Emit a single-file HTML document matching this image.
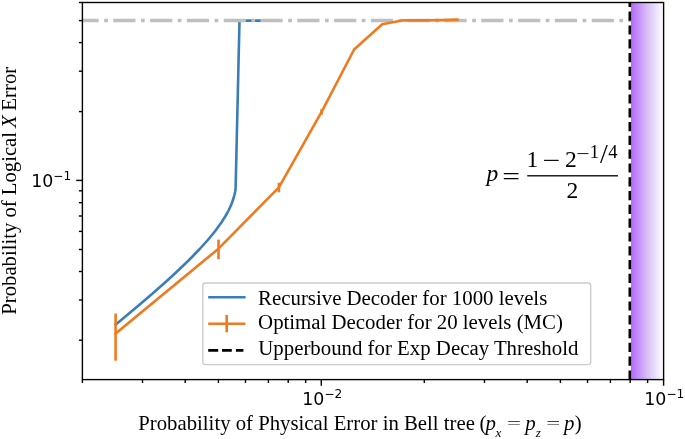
<!DOCTYPE html>
<html>
<head>
<meta charset="utf-8">
<style>
html,body{margin:0;padding:0;background:#fff;}
svg{display:block;}
.serif{font-family:"Liberation Serif","Times New Roman",serif;}
.sans{font-family:"DejaVu Sans","Liberation Sans",sans-serif;}
</style>
</head>
<body>
<svg width="685" height="439" viewBox="0 0 685 439">
<defs>
<linearGradient id="pg" x1="0" y1="0" x2="1" y2="0">
<stop offset="0" stop-color="#b468ff"/>
<stop offset="0.5" stop-color="#d8bff6"/>
<stop offset="0.9" stop-color="#f6f3fd"/>
<stop offset="1" stop-color="#ffffff"/>
</linearGradient>
</defs>
<rect x="0" y="0" width="685" height="439" fill="#fff"/>

<!-- blue recursive decoder curve -->
<polyline fill="none" stroke="#3a7db8" stroke-width="2.6" stroke-linejoin="round" stroke-linecap="square"
points="115.6,324.6 120.0,321.0 123.6,318.0 127.2,315.0 130.8,312.0 134.4,309.0 138.0,306.0 141.5,303.0 145.0,300.0 148.5,297.0 152.0,294.0 155.4,291.0 158.8,288.0 162.2,285.0 165.6,282.0 168.9,279.0 172.2,276.0 175.4,273.0 178.6,270.0 181.8,267.0 184.9,264.0 188.0,261.0 191.0,258.0 193.9,255.0 196.8,252.0 199.7,249.0 202.4,246.0 205.1,243.0 207.8,240.0 210.3,237.0 212.8,234.0 215.2,231.0 217.4,228.0 219.6,225.0 221.7,222.0 223.6,219.0 225.5,216.0 227.2,213.0 228.8,210.0 230.2,207.0 231.5,204.0 232.6,201.0 233.6,198.0 234.4,195.0 235.1,192.0 235.6,188.6 239.5,20.6 262,20.6"/>

<!-- gray dashdot line at 0.5 -->
<line x1="82.3" y1="20.6" x2="663.3" y2="20.6" stroke="#bfbfbf" stroke-width="3.47" stroke-dasharray="22.2 5.5 3.7 5.4" stroke-dashoffset="5.8"/>

<!-- orange optimal decoder -->
<polyline fill="none" stroke="#ef7b20" stroke-width="2.6" stroke-linejoin="round" stroke-linecap="square"
points="115.6,333.6 218.5,248.7 278.9,187.3 321.6,111.9 354.1,49.5 382.2,24.3 403.4,20.3 424.3,20.4 441.8,20.1 457.4,19.7"/>
<g stroke="#ef7b20" stroke-width="2.6">
<line x1="115.6" y1="313.5" x2="115.6" y2="360.7"/>
<line x1="218.5" y1="239.6" x2="218.5" y2="259.2"/>
<line x1="278.9" y1="182.8" x2="278.9" y2="192.3"/>
<line x1="321.6" y1="109.2" x2="321.6" y2="114.6"/>
</g>

<!-- purple gradient region -->
<rect x="631" y="2.5" width="32.6" height="377.1" fill="url(#pg)"/>
<!-- black dashed threshold line -->
<line x1="629.8" y1="379.6" x2="629.8" y2="2.5" stroke="#000" stroke-width="2.6" stroke-dasharray="9.2 4.6"/>

<!-- spines -->
<rect x="82.4" y="2.5" width="581.2" height="377.1" fill="none" stroke="#000" stroke-width="1.39"/>

<!-- y ticks -->
<g stroke="#000" stroke-width="1.39">
<line x1="76.2" y1="180.4" x2="82.4" y2="180.4"/>
<line x1="78.9" y1="2.5" x2="82.4" y2="2.5"/>
<line x1="78.9" y1="20.6" x2="82.4" y2="20.6"/>
<line x1="78.9" y1="42.6" x2="82.4" y2="42.6"/>
<line x1="78.9" y1="71.2" x2="82.4" y2="71.2"/>
<line x1="78.9" y1="111.6" x2="82.4" y2="111.6"/>
<line x1="78.9" y1="190.8" x2="82.4" y2="190.8"/>
<line x1="78.9" y1="202.7" x2="82.4" y2="202.7"/>
<line x1="78.9" y1="216.0" x2="82.4" y2="216.0"/>
<line x1="78.9" y1="231.4" x2="82.4" y2="231.4"/>
<line x1="78.9" y1="249.5" x2="82.4" y2="249.5"/>
<line x1="78.9" y1="271.5" x2="82.4" y2="271.5"/>
<line x1="78.9" y1="300.0" x2="82.4" y2="300.0"/>
<line x1="78.9" y1="340.2" x2="82.4" y2="340.2"/>
</g>
<!-- x ticks -->
<g stroke="#000" stroke-width="1.39">
<line x1="321.3" y1="379.6" x2="321.3" y2="385.7"/>
<line x1="663.6" y1="379.6" x2="663.6" y2="385.7"/>
<line x1="82.4" y1="379.6" x2="82.4" y2="383.0"/>
<line x1="142.5" y1="379.6" x2="142.5" y2="383.0"/>
<line x1="185.2" y1="379.6" x2="185.2" y2="383.0"/>
<line x1="218.4" y1="379.6" x2="218.4" y2="383.0"/>
<line x1="245.5" y1="379.6" x2="245.5" y2="383.0"/>
<line x1="268.4" y1="379.6" x2="268.4" y2="383.0"/>
<line x1="288.2" y1="379.6" x2="288.2" y2="383.0"/>
<line x1="305.7" y1="379.6" x2="305.7" y2="383.0"/>
<line x1="424.3" y1="379.6" x2="424.3" y2="383.0"/>
<line x1="484.5" y1="379.6" x2="484.5" y2="383.0"/>
<line x1="527.2" y1="379.6" x2="527.2" y2="383.0"/>
<line x1="560.4" y1="379.6" x2="560.4" y2="383.0"/>
<line x1="587.5" y1="379.6" x2="587.5" y2="383.0"/>
<line x1="610.4" y1="379.6" x2="610.4" y2="383.0"/>
<line x1="630.2" y1="379.6" x2="630.2" y2="383.0"/>
<line x1="647.6" y1="379.6" x2="647.6" y2="383.0"/>
</g>

<!-- tick labels -->
<g class="sans" fill="#000" font-size="17.36">
<text x="31.2" y="186.9">10<tspan font-size="12.15" dy="-7.2">−1</tspan></text>
<text x="302.3" y="404.8">10<tspan font-size="12.15" dy="-7.2">−2</tspan></text>
<text x="644.3" y="404.8">10<tspan font-size="12.15" dy="-7.2">−1</tspan></text>
</g>

<!-- axis labels -->
<g class="serif" fill="#000" font-size="20.83">
<text x="138.3" y="430.2" font-size="20.76">Probability of Physical Error in Bell tree</text>
<text x="479.4" y="430.2">(</text>
<text x="485.4" y="430.2" font-style="italic">p</text>
<text x="495.6" y="437" font-style="italic" font-size="13.2">x</text>
<text transform="translate(507.1,428.2) scale(1.19,0.7)">=</text>
<text x="525.2" y="430.2" font-style="italic">p</text>
<text x="535.8" y="437" font-style="italic" font-size="13.2">z</text>
<text transform="translate(546.2,428.2) scale(1.19,0.7)">=</text>
<text x="564" y="430.2" font-style="italic">p</text>
<text x="574.7" y="430.2">)</text>
<text transform="translate(16.3,314.65) rotate(-90)" font-size="20.7">Probability of Logical</text>
<text transform="translate(16.3,128.0) rotate(-90)" font-style="italic">X</text>
<text transform="translate(16.3,110.65) rotate(-90)">Error</text>
</g>

<!-- annotation -->
<g class="serif" fill="#000" font-size="23.5">
<text x="486.45" y="181.3" font-style="italic">p</text>
<text transform="translate(502.2,183.6) scale(1.34,1)">=</text>
<text x="526.6" y="166.6">1</text>
<text transform="translate(542.4,167.9) scale(1.34,1)">−</text>
<text x="564.9" y="166.6">2</text>
<g font-size="18.6">
<text transform="translate(576.2,160.1) scale(1.27,1)">−</text>
<text x="589.8" y="158.4">1</text>
<text x="600" y="162.7" font-size="28">/</text>
<text x="608.3" y="158.4">4</text>
</g>
<rect x="527.2" y="175.15" width="90.8" height="1.3" fill="#000"/>
<text x="566.4" y="197.5">2</text>
</g>

<!-- legend -->
<rect x="202.8" y="283.0" width="387.9" height="81.6" rx="2.6" ry="2.6" fill="#fff" fill-opacity="0.8" stroke="#cccccc" stroke-width="1.39"/>
<line x1="208.2" y1="297.3" x2="245.6" y2="297.3" stroke="#3a7db8" stroke-width="2.6"/>
<line x1="208.2" y1="323.7" x2="245.4" y2="323.7" stroke="#ef7b20" stroke-width="2.6"/>
<line x1="226.7" y1="314.9" x2="226.7" y2="332.3" stroke="#ef7b20" stroke-width="2.6"/>
<line x1="208.2" y1="350.4" x2="243.4" y2="350.4" stroke="#000" stroke-width="2.6" stroke-dasharray="10 3.8 9.8 4.1 8 10"/>
<g class="serif" fill="#000" font-size="20.83">
<text x="258.1" y="304.7">Recursive Decoder for 1000 levels</text>
<text x="258.1" y="329.0">Optimal Decoder for 20 levels (MC)</text>
<text x="258.3" y="355.4">Upperbound for Exp Decay Threshold</text>
</g>
</svg>
</body>
</html>
